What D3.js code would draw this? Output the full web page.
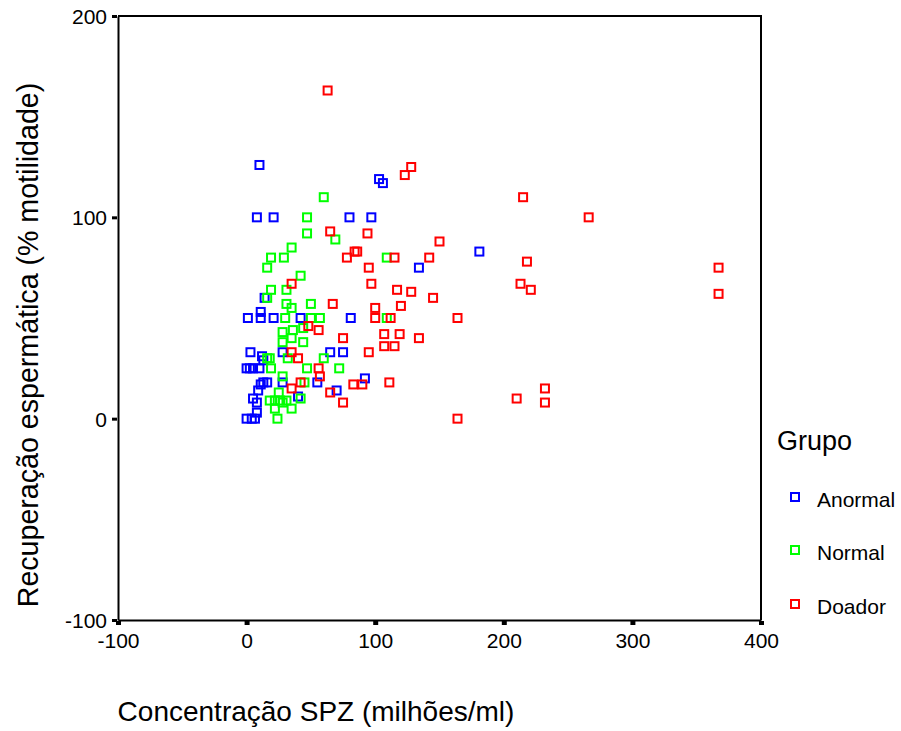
<!DOCTYPE html>
<html>
<head>
<meta charset="utf-8">
<script src="https://cdn.jsdelivr.net/npm/d3@7"></script>
<style>
  html, body { margin: 0; padding: 0; background: #fff; }
  svg text { font-family: "Liberation Sans", Arial, sans-serif; fill: #000; }
</style>
</head>
<body>
<svg id="chart" width="901" height="731"></svg>
<script>
// ---- data ----
const groups = ["Anormal", "Normal", "Doador"];
const groupColors = ["#0000ff", "#00ff00", "#ff0000"];

const xTicks = [-100, 0, 100, 200, 300, 400];
const yTicks = [-100, 0, 100, 200];

const anormalX = [10, 8, 21, 80, 97, 103, 106, 134, 181, 1, 11, 11, 21, 42, 81, 14, 3, 12, 13, 28, 65, 75,
  0, 2.5, 5, 10, 16, 13, 11, 28, 55, 70, 92, 9, 5, 8, 40, 0, 4, 6.5, 8];
const anormalY = [126, 100, 100, 100, 100, 119, 117, 75, 83, 50, 50, 53, 50, 50, 50, 60, 33, 31, 29, 33, 33, 33,
  25, 25, 25, 25, 18, 18, 17, 18, 18, 14, 20, 14, 10, 8, 11, 0, 0, 0, 3];

const normalX = [60, 47, 47, 69, 35, 19, 29, 16, 42, 109, 19, 31, 16, 31, 50, 35, 30, 50, 57, 109,
  36, 44, 28, 35, 44, 28, 32, 16, 18, 60, 47, 19, 72, 28, 45, 25, 18, 22, 26, 28, 31, 42, 22, 35, 24];
const normalY = [110, 100, 92, 89, 85, 80, 80, 75, 71, 80, 64, 64, 60, 57, 57, 55, 50, 50, 50, 50,
  44, 45, 43, 40, 38, 38, 30, 30, 30, 30, 25, 25, 25, 21, 18, 13, 9, 9, 9, 8, 9, 10, 5, 5, 0];

const doadorX = [63, 128, 123, 215, 266, 367, 367, 218, 213, 221, 150, 65, 94, 84, 86, 78, 115, 142, 95, 35,
  97, 117, 128, 145, 67, 100, 120, 100, 112, 164, 48, 56, 75, 107, 119, 134, 107, 115, 95, 35,
  40, 56, 57, 42, 35, 83, 90, 111, 65, 75, 164, 210, 232, 232];
const doadorY = [163, 125, 121, 110, 100, 75, 62, 78, 67, 64, 88, 93, 92, 83, 83, 80, 80, 80, 75, 67,
  67, 64, 63, 60, 57, 55, 56, 50, 50, 50, 46, 44, 40, 42, 42, 40, 36, 36, 33, 33,
  30, 25, 21, 18, 15, 17, 17, 18, 13, 8, 0, 10, 15, 8];

const seriesX = [anormalX, normalX, doadorX];
const seriesY = [anormalY, normalY, doadorY];

// ---- chart ----
const svg = d3.select("#chart");
const pLeft = 118, pRight = 761, pTop = 16, pBottom = 620;

const x = d3.scaleLinear().domain([-100, 400]).range([pLeft, pRight]);
const y = d3.scaleLinear().domain([-100, 200]).range([pBottom, pTop]);
const fmt = d => String(d);

// frame (top and right)
svg.append("path")
  .attr("d", `M${pLeft},${pTop}H${pRight}V${pBottom}`)
  .attr("fill", "none").attr("stroke", "#000").attr("stroke-width", 2);

// x axis
const xAxis = svg.append("g").attr("transform", `translate(0,${pBottom})`)
  .call(d3.axisBottom(x).tickValues(xTicks).tickSize(0).tickPadding(0).tickFormat(fmt));
xAxis.select(".domain").attr("stroke", "#000").attr("stroke-width", 2);
xAxis.selectAll(".tick line").remove();
xAxis.selectAll(".tick").append("line")
  .attr("x1", 0).attr("x2", 0).attr("y1", 1).attr("y2", 5)
  .attr("stroke", "#000").attr("stroke-width", 5);
xAxis.selectAll(".tick text")
  .attr("y", 28).attr("dy", null)
  .style("font-size", "21px").style("font-family", "'Liberation Sans', Arial, sans-serif").attr("fill", "#000");

// y axis
const yAxis = svg.append("g").attr("transform", `translate(${pLeft},0)`)
  .call(d3.axisLeft(y).tickValues(yTicks).tickSize(0).tickPadding(0).tickFormat(fmt));
yAxis.select(".domain").attr("stroke", "#000").attr("stroke-width", 2);
yAxis.selectAll(".tick line").remove();
yAxis.selectAll(".tick").append("line")
  .attr("x1", -1).attr("x2", -6).attr("y1", 0).attr("y2", 0)
  .attr("stroke", "#000").attr("stroke-width", 3);
yAxis.selectAll(".tick text")
  .attr("x", -11).attr("dy", "0.36em")
  .style("font-size", "21px").style("font-family", "'Liberation Sans', Arial, sans-serif").attr("fill", "#000");

// points
const ms = 8;
groups.forEach((g, gi) => {
  const pts = seriesX[gi].map((v, i) => [v, seriesY[gi][i]]);
  svg.append("g").selectAll("rect").data(pts).join("rect")
    .attr("x", d => x(d[0]) - ms / 2)
    .attr("y", d => y(d[1]) - ms / 2)
    .attr("width", ms).attr("height", ms)
    .attr("fill", "none")
    .attr("stroke", groupColors[gi])
    .attr("stroke-width", 2);
});

// axis titles
svg.append("text")
  .attr("x", 316).attr("y", 721)
  .attr("text-anchor", "middle")
  .style("font-size", "28px")
  .text("Concentração SPZ (milhões/ml)");

svg.append("text")
  .attr("transform", "translate(38,345) rotate(-90)")
  .attr("text-anchor", "middle")
  .style("font-size", "28.6px")
  .text("Recuperação espermática (% motilidade)");

// legend
svg.append("text")
  .attr("x", 777).attr("y", 450)
  .style("font-size", "27px")
  .text("Grupo");

const legendY = [497, 550, 604];
groups.forEach((g, gi) => {
  svg.append("rect")
    .attr("x", 795 - ms / 2).attr("y", legendY[gi] - ms / 2)
    .attr("width", ms).attr("height", ms)
    .attr("fill", "none").attr("stroke", groupColors[gi]).attr("stroke-width", 2);
  svg.append("text")
    .attr("x", 817).attr("y", legendY[gi] + 10)
    .style("font-size", "21px")
    .text(g);
});
</script>
</body>
</html>
